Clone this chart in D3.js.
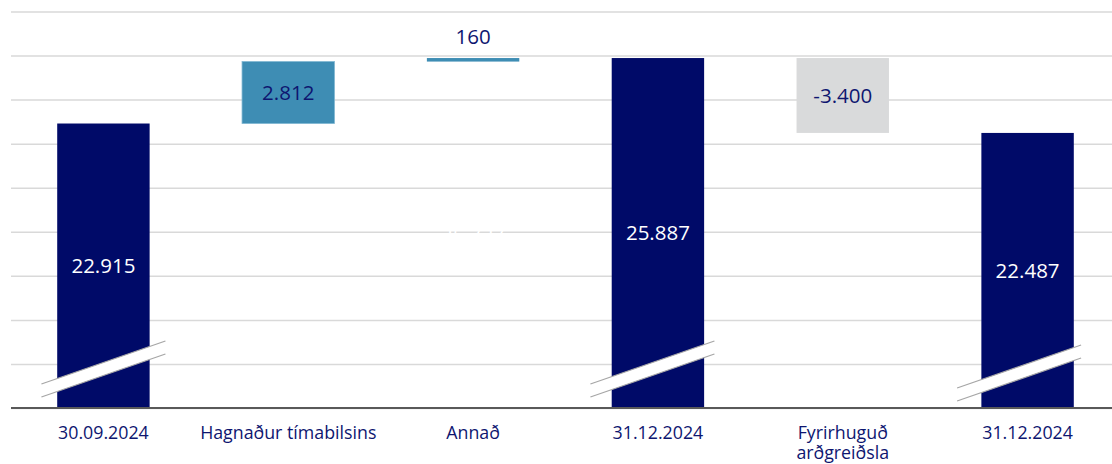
<!DOCTYPE html>
<html>
<head>
<meta charset="utf-8">
<script src="https://cdn.jsdelivr.net/npm/d3@7"></script>
<style>
  body { margin: 0; background: #fff; }
  text { font-family: "Open Sans", "Noto Sans", sans-serif; }
</style>
</head>
<body>
<div id="chart"></div>
<script>
// categories (bottom labels, split into lines)
var tickLabels = [
  ["30.09.2024"],
  ["Hagnaður tímabilsins"],
  ["Annað"],
  ["31.12.2024"],
  ["Fyrirhuguð", "arðgreiðsla"],
  ["31.12.2024"]
];
var values = [22915, 2812, 160, 25887, -3400, 22487];
var kinds = ["total", "delta", "delta", "total", "delta", "total"];
var gridValues = [10000, 12000, 14000, 16000, 18000, 20000, 22000, 24000, 26000, 28000];

var svgWidth = 1112;
var svgHeight = 464;

var navy = "#000a68";
var textNavy = "#0e1670";

var svg = d3.select("#chart")
  .append("svg")
  .attr("width", svgWidth)
  .attr("height", svgHeight);

var x = d3.scaleBand()
  .domain(d3.range(values.length))
  .range([11, 1120])
  .paddingInner(0.5)
  .paddingOuter(0.25);

var y = d3.scaleLinear()
  .domain([10000, 28000])
  .range([408, 11.5]);

// build waterfall rows from the values
var running = 0;
var rows = values.map(function(v, i) {
  var r = { i: i, v: v, kind: kinds[i] };
  if (kinds[i] === "total") {
    r.lo = 10000; r.hi = v; running = v;
  } else {
    r.lo = Math.min(running, running + v);
    r.hi = Math.max(running, running + v);
    r.base = r.lo;
    running = running + v;
  }
  return r;
});

// gridlines
var grid = svg.append("g")
  .attr("transform", "translate(11,0)")
  .call(d3.axisLeft(y).tickValues(gridValues).tickSize(-1120).tickFormat(""));
grid.select(".domain").remove();
grid.selectAll("line").attr("stroke", "#d9d9d9").attr("stroke-width", 1.5);

// bars
svg.selectAll("rect.bar")
  .data(rows).enter()
  .append("rect")
  .attr("class", "bar")
  .attr("x", d => x(d.i))
  .attr("width", x.bandwidth())
  .attr("y", d => y(d.hi))
  .attr("height", d => y(d.lo) - y(d.hi))
  .attr("fill", d => d.kind === "total" ? navy : (d.v >= 0 ? "#3e8db4" : "#d9dadb"))
  .attr("stroke", d => d.kind === "delta" && d.v >= 0 && (y(d.lo) - y(d.hi)) > 10 ? "#7fb6d2" : "none")
  .attr("stroke-width", 0.8);

// axis break marks on the totals
var breakShift = { 0: [0, 0], 3: [-5.5, 0], 5: [-8.5, 4] };
var breaks = svg.append("g");
rows.filter(d => d.kind === "total").forEach(function(d) {
  var s = breakShift[d.i];
  var cx = x(d.i) + x.bandwidth() / 2 + s[0];
  var cy = 362.5 + s[1];
  var hx = 62, hy = 21.5, gap = 13;
  breaks.append("polygon")
    .attr("points", [[cx - hx, cy + hy], [cx + hx, cy - hy], [cx + hx, cy - hy + gap], [cx - hx, cy + hy + gap]].join(" "))
    .attr("fill", "#fff");
  [0, gap].forEach(function(o) {
    breaks.append("line")
      .attr("x1", cx - hx).attr("y1", cy + hy + o)
      .attr("x2", cx + hx).attr("y2", cy - hy + o)
      .attr("stroke", "#a6a6a6")
      .attr("stroke-width", 1.3);
  });
});

// baseline
svg.append("line")
  .attr("x1", 11).attr("x2", svgWidth)
  .attr("y1", 408).attr("y2", 408)
  .attr("stroke", "#595959")
  .attr("stroke-width", 2);

var fmt = function(v) {
  var s = d3.format(",")(Math.abs(v)).replace(/,/g, ".");
  return (v < 0 ? "-" : "") + s;
};

// hidden base labels of the floating bars (white on white)
svg.selectAll("text.base")
  .data(rows.filter(d => d.kind === "delta" && d.v > 0)).enter()
  .append("text")
  .attr("class", "base")
  .attr("x", d => x(d.i) + x.bandwidth() / 2)
  .attr("y", d => (y(d.base) + y(10000)) / 2)
  .attr("dy", "0.35em")
  .attr("text-anchor", "middle")
  .attr("font-size", 20.5)
  .attr("fill", "#fff")
  .text(d => fmt(d.base));

// value labels
svg.selectAll("text.val")
  .data(rows).enter()
  .append("text")
  .attr("class", "val")
  .attr("x", d => x(d.i) + x.bandwidth() / 2)
  .attr("y", function(d) {
    var h = y(d.lo) - y(d.hi);
    if (d.kind === "delta" && h < 20) return y(d.hi) - 21;
    return (y(d.lo) + y(d.hi)) / 2;
  })
  .attr("dy", "0.35em")
  .attr("text-anchor", "middle")
  .attr("font-size", 20.5)
  .attr("fill", d => d.kind === "total" ? "#fff" : textNavy)
  .text(d => fmt(d.v));

// category labels
var xAxis = svg.append("g")
  .attr("transform", "translate(0,408)")
  .call(d3.axisBottom(x).tickSize(0).tickFormat(""));
xAxis.select(".domain").remove();
xAxis.selectAll(".tick").each(function(i) {
  var t = d3.select(this).append("text")
    .attr("text-anchor", "middle")
    .attr("font-size", 17.8)
    .attr("fill", textNavy)
    .attr("y", 31);
  tickLabels[i].forEach(function(line, k) {
    t.append("tspan").attr("x", 0).attr("dy", k === 0 ? 0 : 20).text(line);
  });
});
</script>
</body>
</html>
